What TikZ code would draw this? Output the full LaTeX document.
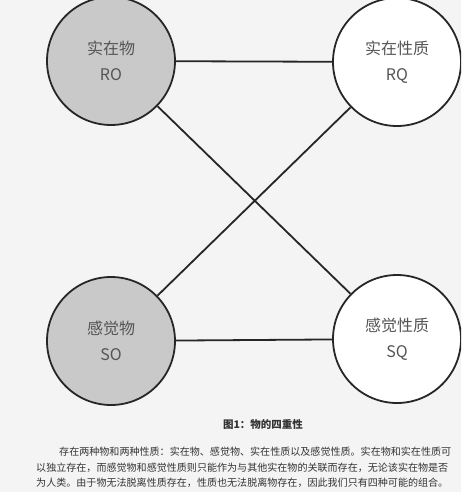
\documentclass[tikz,border=0pt]{standalone}
\usepackage{fontspec}
\setmainfont{Noto Sans CJK SC}
\definecolor{bgpaper}{HTML}{F4F4F4}
\definecolor{objgray}{HTML}{C9C9C9}
\definecolor{labelgray}{HTML}{555555}
\definecolor{bodytext}{HTML}{333333}
\tikzset{
  thing/.style={draw=black!85, line width=1.8pt, circle, minimum size=128pt, inner sep=0pt, align=center, text=labelgray, font=\fontsize{16}{26}\selectfont},
  bodyline/.style={anchor=west, inner sep=0pt, text=bodytext, font=\fontsize{10.05}{12}\selectfont},
}
\begin{document}
\begin{tikzpicture}[x=1pt, y=-1pt]
\useasboundingbox (0,0) rectangle (461,492);
\clip (0,0) rectangle (461,492);
\fill[bgpaper] (0,0) rectangle (461,492);

\node[thing, fill=objgray] (RO) at (111,61) {实在物\\RO};
\node[thing, fill=white] (RQ) at (397,62) {实在性质\\RQ};
\node[thing, fill=objgray] (SO) at (111,341) {感觉物\\SO};
\node[thing, fill=white] (SQ) at (397,339) {感觉性质\\SQ};

\path[draw=black!85, line width=1.8pt, -] (RO) -- (RQ);
\path[draw=black!85, line width=1.8pt, -] (SO) -- (SQ);
\path[draw=black!85, line width=1.8pt, -] (RO) -- (SQ);
\path[draw=black!85, line width=1.8pt, -] (SO) -- (RQ);

\node[text=bodytext, font=\bfseries\fontsize{10.5}{12}\selectfont] (caption) at (263,424) {图1：物的四重性};
\node[bodyline] (line1) at (59,452) {存在两种物和两种性质：实在物、感觉物、实在性质以及感觉性质。实在物和实在性质可};
\node[bodyline] (line2) at (36,468) {以独立存在，而感觉物和感觉性质则只能作为与其他实在物的关联而存在，无论该实在物是否};
\node[bodyline] (line3) at (36,483) {为人类。由于物无法脱离性质存在，性质也无法脱离物存在，因此我们只有四种可能的组合。};
\end{tikzpicture}
\end{document}
